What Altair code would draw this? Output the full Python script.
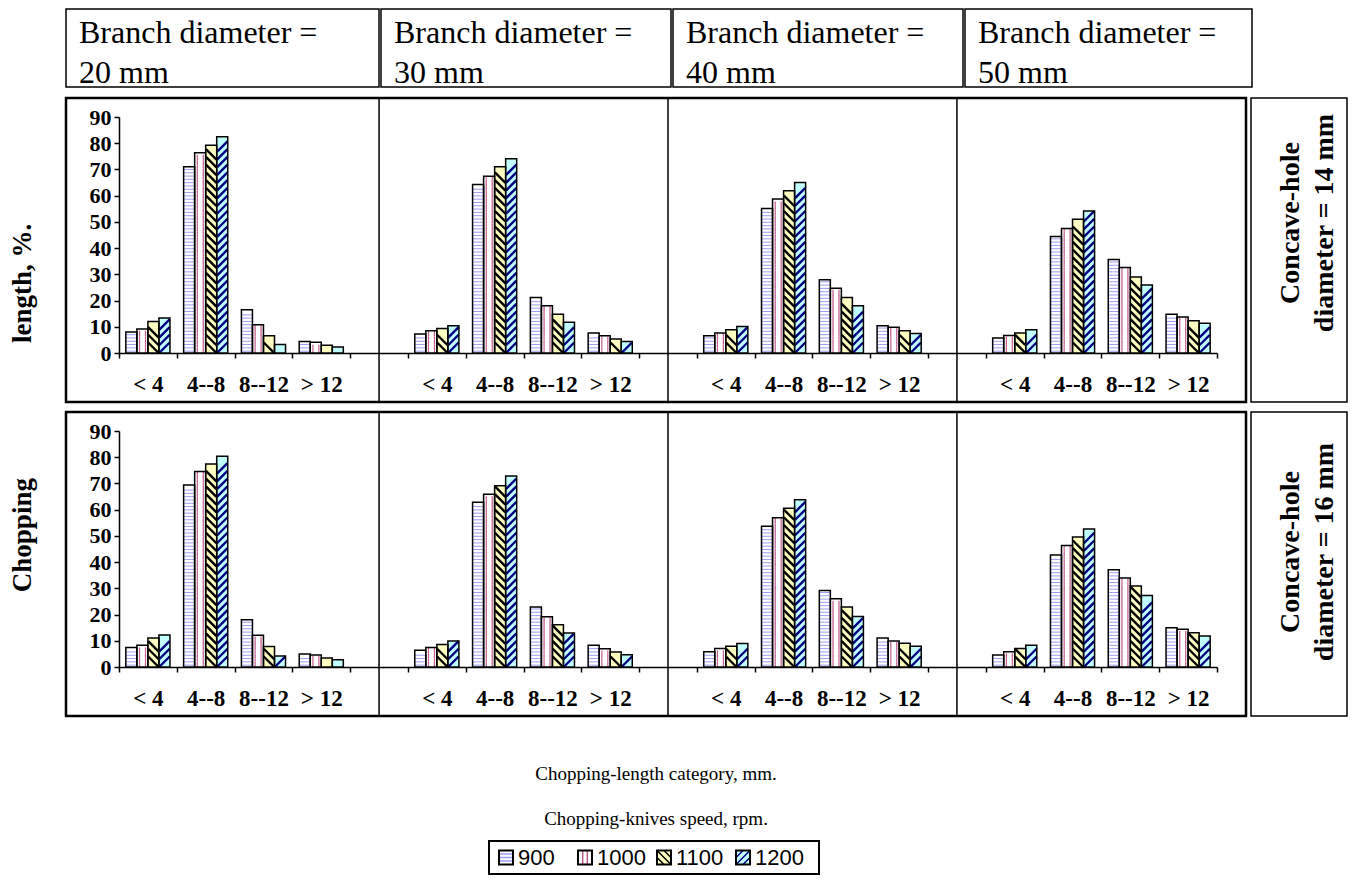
import altair as alt
import pandas as pd

# ---------------- data ----------------
branch_diameters = [20, 30, 40, 50]
hole_diameters = [14, 16]
categories = ["< 4", "4--8", "8--12", "> 12"]
speeds = ["900", "1000", "1100", "1200"]

# each panel: one list per speed (900, 1000, 1100, 1200), values per category
h14_d20 = [[8.0, 71.0, 16.5, 4.4], [9.2, 76.4, 10.8, 4.1], [12.0, 79.2, 6.6, 3.0], [13.3, 82.5, 3.2, 2.3]]
h14_d30 = [[7.2, 64.3, 21.2, 7.6], [8.5, 67.4, 18.0, 6.6], [9.3, 71.0, 14.8, 5.3], [10.4, 74.1, 11.7, 4.4]]
h14_d40 = [[6.6, 55.1, 27.9, 10.4], [7.6, 58.7, 24.7, 9.8], [8.9, 61.9, 21.2, 8.5], [10.1, 65.0, 18.0, 7.4]]
h14_d50 = [[5.7, 44.4, 35.7, 14.8], [6.7, 47.5, 32.6, 13.7], [7.6, 51.0, 29.0, 12.3], [8.9, 54.2, 25.9, 11.3]]
h16_d20 = [[7.4, 69.4, 18.0, 5.0], [8.3, 74.6, 12.1, 4.6], [11.1, 77.4, 7.8, 3.4], [12.2, 80.4, 4.2, 2.8]]
h16_d30 = [[6.4, 62.8, 22.9, 8.3], [7.4, 65.9, 19.2, 7.0], [8.6, 69.1, 16.1, 5.7], [9.9, 72.8, 13.0, 4.7]]
h16_d40 = [[5.8, 53.7, 29.2, 11.1], [7.1, 56.9, 26.0, 9.9], [7.9, 60.5, 22.9, 9.1], [9.0, 63.8, 19.3, 7.9]]
h16_d50 = [[4.6, 42.7, 37.1, 15.0], [5.8, 46.3, 33.9, 14.4], [7.1, 49.6, 30.9, 13.1], [8.3, 52.6, 27.3, 11.8]]

panels = {14: [h14_d20, h14_d30, h14_d40, h14_d50],
          16: [h16_d20, h16_d30, h16_d40, h16_d50]}

y_ticks = [0, 10, 20, 30, 40, 50, 60, 70, 80, 90]
header_line1 = "Branch diameter ="
header_line2 = "{} mm"
row_line1 = "Concave-hole"
row_line2 = "diameter = {} mm"
y_title = "Chopping" + "\u00a0" * 20 + "length, %."
x_title = "Chopping-length category, mm."
legend_title = "Chopping-knives speed, rpm."

# ---------------- style ----------------
SERIF = "Liberation Serif"
SANS = "Liberation Sans"
fill_colors = ["#ffffff", "#ffffff", "#ffffc2", "#c2ffff"]
NO_BOX = alt.ViewBackground(strokeOpacity=0, strokeWidth=0)

ROW_W, ROW_H = 1180, 304

x_domain = []
for i, d in enumerate(branch_diameters):
    x_domain += [f"{d}|{c}" for c in categories]
    if i < len(branch_diameters) - 1:
        x_domain.append(f"{d}|")

x_axis = alt.Axis(orient="bottom", offset=-49, title=None, tickBand="extent",
                  labelExpr="split(datum.value, '|')[1]", labelFont=SERIF,
                  labelFontWeight="bold", labelFontSize=23, labelColor="black",
                  labelPadding=15, labelAngle=0, labelOverlap=False,
                  domainColor="black", domainWidth=1.5, tickColor="black",
                  tickWidth=1.5, tickSize=5, grid=False)
y_axis = alt.Axis(orient="left", offset=-53, title=None, values=y_ticks,
                  labelFont=SERIF, labelFontWeight="bold", labelFontSize=22,
                  labelColor="black", labelPadding=3, domainColor="black",
                  domainWidth=1.5, tickColor="black", tickWidth=1.5, tickSize=5,
                  grid=False)


def text_layer(text, x, y, **kw):
    return alt.Chart(pd.DataFrame({"t": [text]})).mark_text(color="black", **kw).encode(
        x=alt.value(x), y=alt.value(y), text="t:N")


def make_row(hole, label_y):
    recs = []
    for d, vals in zip(branch_diameters, panels[hole]):
        for si, s in enumerate(speeds):
            for ci, c in enumerate(categories):
                recs.append({"key": f"{d}|{c}", "speed": s, "value": vals[si][ci]})
    df = pd.DataFrame(recs)
    gaps = pd.DataFrame({"key": [f"{d}|" for d in branch_diameters[:-1]]})

    x_scale = alt.Scale(domain=x_domain, range=[53, 1151], paddingInner=0, paddingOuter=0)
    y_scale = alt.Scale(domain=[0, 90], range=[255, 19], nice=False)
    X = alt.X("key:N", scale=x_scale, axis=x_axis)
    XO = alt.XOffset("speed:N", scale=alt.Scale(domain=speeds, paddingInner=0, paddingOuter=0.62))
    YV = alt.Y("value:Q", scale=y_scale, axis=y_axis)
    YS = alt.Y("stripe:Q", scale=y_scale, axis=y_axis)

    base = alt.Chart(df)
    fills = base.mark_bar(strokeWidth=0).encode(
        x=X, xOffset=XO, y=YV,
        fill=alt.Fill("speed:N", scale=alt.Scale(domain=speeds, range=fill_colors), legend=None))

    def stripes(speed, start, step, shape, size, color, width):
        return (base.transform_filter(alt.datum.speed == speed)
                .transform_calculate(stripe=f"sequence({start}, datum.value - {start} + 0.01, {step})")
                .transform_flatten(["stripe"])
                .mark_point(shape=shape, size=size, filled=False, stroke=color,
                            strokeWidth=width, opacity=1)
                .encode(x=X, xOffset=XO, y=YS))

    s900 = stripes("900", 0.7, 1.26, "M-1,0L1,0", 100, "#9d9df5", 1)
    s1000 = stripes("1000", 0.55, 1.05, "M-2,-1L-2,1M2.2,-1L2.2,1", 8, "#c0588a", 1.2)
    s1100 = stripes("1100", 2.0, 2.95, "M-1,-1L1,1", 110, "black", 2.4)
    s1200 = stripes("1200", 2.0, 2.95, "M-1,1L1,-1", 110, "#000080", 2.4)

    outline = base.mark_bar(fillOpacity=0, stroke="black", strokeWidth=1.5).encode(
        x=X, xOffset=XO, y=YV)
    dividers = alt.Chart(gaps).mark_rule(color="black", strokeWidth=1.5).encode(x=X)

    chart = alt.layer(fills, s900, s1000, s1100, s1200, outline, dividers).properties(
        width=ROW_W, height=ROW_H,
        view=alt.ViewBackground(stroke="black", strokeWidth=2.5))

    side_kw = dict(angle=270, font=SERIF, fontWeight="bold", fontSize=28,
                   align="center", baseline="middle")
    side = alt.layer(
        text_layer(row_line1, 40, label_y, **side_kw),
        text_layer(row_line2.format(hole), 74, label_y, **side_kw),
    ).properties(width=96, height=ROW_H,
                 view=alt.ViewBackground(stroke="black", strokeWidth=1.5))
    return alt.hconcat(chart, side, spacing=2)


def header_box(d, w):
    kw = dict(align="left", baseline="middle", font=SERIF, fontSize=32)
    return alt.layer(
        text_layer(header_line1, 13, 24, **kw),
        text_layer(header_line2.format(d), 13, 64, **kw),
    ).properties(width=w, height=78, view=alt.ViewBackground(stroke="black", strokeWidth=1.5))


header = alt.hconcat(*[header_box(d, w) for d, w in zip(branch_diameters, [313, 290, 290, 287])],
                     spacing=0)

ytitle = text_layer(y_title, 15, 399, angle=270, font=SERIF, fontWeight="bold", fontSize=27,
                    align="center", baseline="middle").properties(width=56, height=780, view=NO_BOX)

bottom_kw = dict(font=SERIF, fontSize=19, align="center", baseline="middle")
bottom = alt.layer(
    text_layer(x_title, 590, 50, **bottom_kw),
    text_layer(legend_title, 590, 95, **bottom_kw),
).properties(width=ROW_W, height=110, view=NO_BOX)

# legend (items drawn relative to the centre of each band)
leg_df = pd.DataFrame({"speed": speeds})
LX = alt.X("speed:N", scale=alt.Scale(domain=speeds, range=[5, 321], paddingInner=0, paddingOuter=0),
           axis=None)
SYM_DX = -27.5
TXT_DX = -15.5
leg_base = alt.Chart(leg_df)
leg_sym = leg_base.mark_point(shape="square", size=196, filled=True, strokeWidth=0, opacity=1,
                              xOffset=SYM_DX).encode(
    x=LX, y=alt.value(16.5),
    fill=alt.Fill("speed:N", scale=alt.Scale(domain=speeds, range=fill_colors), legend=None))
leg_patterns = []
for sp, path, col in [("900", "M-1,-0.5L1,-0.5M-1,0L1,0M-1,0.5L1,0.5", "#9d9df5"),
                      ("1000", "M-0.33,-1L-0.33,1M0.33,-1L0.33,1", "#c0588a"),
                      ("1100", "M-1,-1L1,1M-1,0L0,1M0,-1L1,0", "black"),
                      ("1200", "M-1,1L1,-1M-1,0L0,-1M0,1L1,0", "#000080")]:
    leg_patterns.append(leg_base.transform_filter(alt.datum.speed == sp).mark_point(
        shape=path, size=196, filled=False, stroke=col, strokeWidth=1.5, opacity=1,
        xOffset=SYM_DX).encode(x=LX, y=alt.value(16.5)))
leg_outline = leg_base.mark_point(shape="square", size=196, filled=False, stroke="black",
                                  strokeWidth=2, opacity=1, xOffset=SYM_DX).encode(x=LX, y=alt.value(16.5))
leg_text = leg_base.mark_text(align="left", baseline="middle", dx=TXT_DX, font=SANS, fontSize=22,
                              color="black").encode(x=LX, y=alt.value(17), text="speed:N")
legend = alt.layer(leg_sym, *leg_patterns, leg_outline, leg_text).properties(
    width=330, height=33, view=alt.ViewBackground(stroke="black", strokeWidth=2))
spacer = alt.Chart(pd.DataFrame({"t": [""]})).mark_text().encode(
    x=alt.value(200), y=alt.value(16), text="t:N").properties(width=422, height=33, view=NO_BOX)
legend_row = alt.hconcat(spacer, legend, spacing=0)

main = alt.vconcat(header, make_row(14, 125), make_row(16, 140), bottom, legend_row, spacing=6)
chart = alt.hconcat(ytitle, main, spacing=0).properties(padding=0, background="white")

chart.save("out.html", embed_options={"renderer": "svg", "actions": False})
